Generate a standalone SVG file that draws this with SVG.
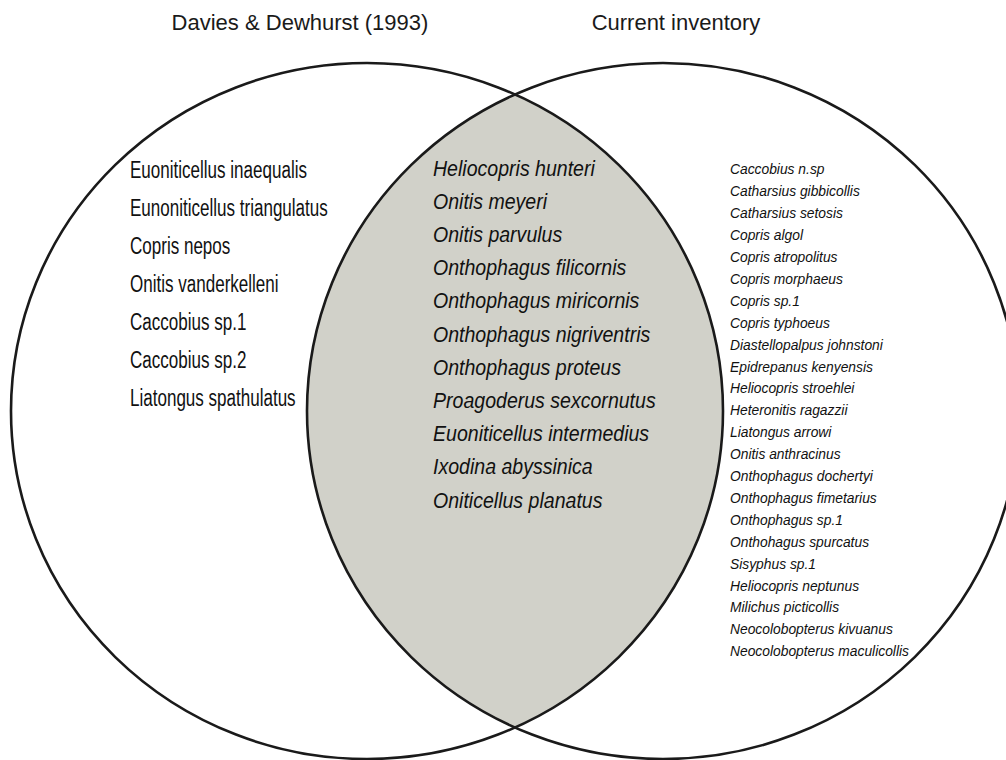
<svg xmlns="http://www.w3.org/2000/svg" width="1006" height="760" viewBox="0 0 1006 760">
<style>
.title{font-family:"Liberation Sans",Arial,sans-serif;font-size:22px;fill:#1a1a1a}
.left{font-family:"Liberation Sans",Arial,sans-serif;font-size:23.5px;fill:#111}
.mid{font-family:"Liberation Sans",Arial,sans-serif;font-size:22px;font-style:italic;fill:#111}
.right{font-family:"Liberation Sans",Arial,sans-serif;font-size:14.5px;font-style:italic;fill:#111}
.ring{fill:none;stroke:#1a1a1a;stroke-width:2.6}
</style>
<rect width="1006" height="760" fill="#fff"/>
<g id="overlap">
<path d="M515,94.5 A356,348 0 0,1 515,727.5 A356,348 0 0,1 515,94.5 Z" fill="#d1d1c9"/>
</g>
<g id="set-davies">
<ellipse class="ring" cx="367" cy="411" rx="356" ry="348"/>
</g>
<g id="set-current">
<ellipse class="ring" cx="663" cy="411" rx="356" ry="348"/>
</g>
<g id="titles">
<text class="title" x="300" y="30" text-anchor="middle">Davies &amp; Dewhurst (1993)</text>
<text class="title" x="676" y="30" text-anchor="middle">Current inventory</text>
</g>
<g id="list-left" transform="translate(130,0) scale(0.7246,1)">
<text class="left" x="0" y="178.5">Euoniticellus inaequalis</text>
<text class="left" x="0" y="216.4">Eunoniticellus triangulatus</text>
<text class="left" x="0" y="254.3">Copris nepos</text>
<text class="left" x="0" y="292.2">Onitis vanderkelleni</text>
<text class="left" x="0" y="330.1">Caccobius sp.1</text>
<text class="left" x="0" y="368">Caccobius sp.2</text>
<text class="left" x="0" y="405.9">Liatongus spathulatus</text>
</g>
<g id="list-shared" transform="translate(433,0) scale(0.889,1)">
<text class="mid" x="0" y="175.7">Heliocopris hunteri</text>
<text class="mid" x="0" y="208.9">Onitis meyeri</text>
<text class="mid" x="0" y="242.1">Onitis parvulus</text>
<text class="mid" x="0" y="275.3">Onthophagus filicornis</text>
<text class="mid" x="0" y="308.5">Onthophagus miricornis</text>
<text class="mid" x="0" y="341.7">Onthophagus nigriventris</text>
<text class="mid" x="0" y="374.9">Onthophagus proteus</text>
<text class="mid" x="0" y="408.1">Proagoderus sexcornutus</text>
<text class="mid" x="0" y="441.3">Euoniticellus intermedius</text>
<text class="mid" x="0" y="474.5">Ixodina abyssinica</text>
<text class="mid" x="0" y="507.7">Oniticellus planatus</text>
</g>
<g id="list-right" transform="translate(730,0) scale(0.954,1)">
<text class="right" x="0" y="174.5">Caccobius n.sp</text>
<text class="right" x="0" y="196.4">Catharsius gibbicollis</text>
<text class="right" x="0" y="218.3">Catharsius setosis</text>
<text class="right" x="0" y="240.2">Copris algol</text>
<text class="right" x="0" y="262.1">Copris atropolitus</text>
<text class="right" x="0" y="284">Copris morphaeus</text>
<text class="right" x="0" y="305.9">Copris sp.1</text>
<text class="right" x="0" y="327.8">Copris typhoeus</text>
<text class="right" x="0" y="349.7">Diastellopalpus johnstoni</text>
<text class="right" x="0" y="371.6">Epidrepanus kenyensis</text>
<text class="right" x="0" y="393.5">Heliocopris stroehlei</text>
<text class="right" x="0" y="415.4">Heteronitis ragazzii</text>
<text class="right" x="0" y="437.3">Liatongus arrowi</text>
<text class="right" x="0" y="459.2">Onitis anthracinus</text>
<text class="right" x="0" y="481.1">Onthophagus dochertyi</text>
<text class="right" x="0" y="503">Onthophagus fimetarius</text>
<text class="right" x="0" y="524.9">Onthophagus sp.1</text>
<text class="right" x="0" y="546.8">Onthohagus spurcatus</text>
<text class="right" x="0" y="568.7">Sisyphus sp.1</text>
<text class="right" x="0" y="590.6">Heliocopris neptunus</text>
<text class="right" x="0" y="612.5">Milichus picticollis</text>
<text class="right" x="0" y="634.4">Neocolobopterus kivuanus</text>
<text class="right" x="0" y="656.3">Neocolobopterus maculicollis</text>
</g>
</svg>
